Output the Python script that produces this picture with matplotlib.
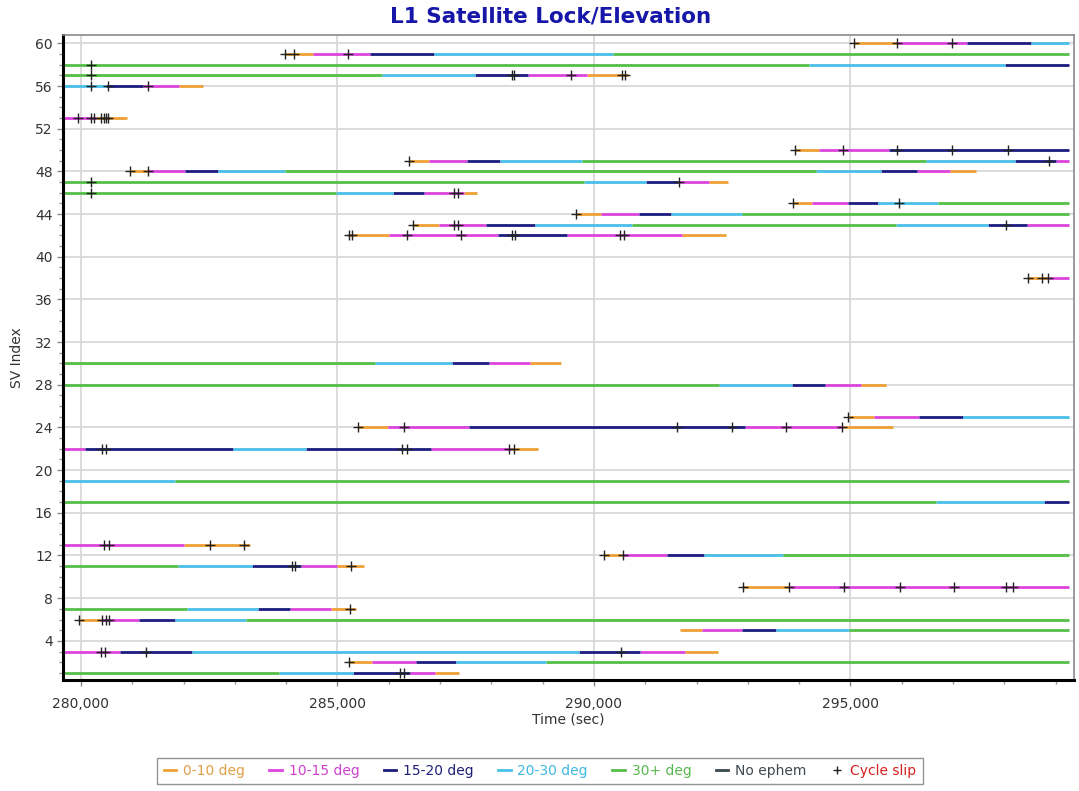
import matplotlib
matplotlib.use("Agg")
import matplotlib.pyplot as plt
from matplotlib.lines import Line2D
from matplotlib.ticker import MultipleLocator, FuncFormatter

# ---------------- data ----------------
# segments: (SV index, start time, end time)
seg_0_10 = [
    (60, 295070, 295900), (59, 283980, 284530), (57, 289866, 290670),
    (56, 281920, 282380), (53, 280300, 280900), (50, 293920, 294390),
    (49, 286400, 286785), (48, 280962, 281310), (48, 296935, 297437),
    (47, 292245, 292613), (46, 287457, 287726), (45, 293886, 294255),
    (44, 289652, 290134), (43, 286481, 286986), (42, 285216, 286010),
    (42, 291709, 292566), (38, 298462, 298878), (30, 288749, 289364),
    (28, 295206, 295695), (25, 294945, 295461), (24, 285391, 285976),
    (24, 294858, 295829), (22, 288380, 288904), (13, 282005, 283304),
    (12, 290188, 290570), (11, 285000, 285525), (9, 292901, 293799),
    (7, 284879, 285371), (6, 279966, 280390), (5, 291675, 292097),
    (3, 291776, 292425), (2, 285216, 285673), (1, 286898, 287369),
]
seg_10_15 = [
    (60, 295900, 297270), (59, 284530, 285640), (57, 288720, 289866),
    (56, 281200, 281920), (53, 279670, 280300), (50, 294390, 295760),
    (49, 286785, 287525), (49, 299010, 299250), (48, 281310, 282026),
    (48, 296298, 296935), (47, 291642, 292245), (46, 286683, 287457),
    (45, 294255, 294958), (44, 290134, 290871), (43, 286986, 287894),
    (43, 298442, 299250), (42, 286010, 288130), (42, 289484, 291709),
    (38, 298878, 299250), (30, 287948, 288749), (28, 294509, 295206),
    (25, 295461, 296332), (24, 285976, 287557), (24, 292948, 294858),
    (22, 279670, 280087), (22, 286817, 288380), (13, 279670, 282005),
    (12, 290570, 291427), (11, 284294, 285000), (9, 293799, 299250),
    (7, 284078, 284879), (6, 280390, 281131), (5, 292097, 292881),
    (3, 279670, 280760), (3, 290891, 291776), (2, 285673, 286535),
    (1, 286414, 286898),
]
seg_15_20 = [
    (60, 297270, 298510), (59, 285640, 286885), (58, 298010, 299250),
    (57, 287680, 288720), (56, 280490, 281200), (50, 295760, 299250),
    (49, 287525, 288165), (49, 298210, 299010), (48, 282026, 282665),
    (48, 295595, 296298), (47, 291005, 291642), (46, 286077, 286683),
    (45, 294958, 295528), (44, 290871, 291508), (43, 287894, 288850),
    (43, 297672, 298442), (42, 288130, 289484), (30, 287235, 287948),
    (28, 293853, 294509), (25, 296332, 297189), (24, 287557, 292948),
    (22, 280087, 282968), (22, 284395, 286817), (17, 298777, 299250),
    (12, 291427, 292144), (11, 283338, 284294), (7, 283452, 284078),
    (6, 281131, 281837), (5, 292881, 293551), (3, 280760, 282160),
    (3, 289712, 290891), (2, 286535, 287302), (1, 285303, 286414),
]
seg_20_30 = [
    (60, 298510, 299250), (59, 286885, 290370), (58, 294190, 298010),
    (57, 285875, 287680), (56, 279670, 280490), (49, 288165, 289765),
    (49, 296465, 298210), (48, 282665, 283977), (48, 294322, 295595),
    (47, 289799, 291005), (46, 284967, 286077), (45, 295528, 296700),
    (44, 291508, 292880), (43, 288850, 290737), (43, 295896, 297672),
    (30, 285741, 287235), (28, 292446, 293853), (25, 297189, 299250),
    (22, 282968, 284395), (19, 279670, 281824), (17, 296667, 298777),
    (12, 292144, 293685), (11, 281884, 283338), (7, 282073, 283452),
    (6, 281837, 283217), (5, 293551, 294978), (3, 282160, 289712),
    (2, 287302, 289062), (1, 283856, 285303),
]
seg_30_plus = [
    (59, 290370, 299250), (58, 279670, 294190), (57, 279670, 285875),
    (49, 289765, 296465), (48, 283977, 294322), (47, 279670, 289799),
    (46, 279670, 284967), (45, 296700, 299250), (44, 292880, 299250),
    (43, 290737, 295896), (30, 279670, 285741), (28, 279670, 292446),
    (19, 281824, 299250), (17, 279670, 296667), (12, 293685, 299250),
    (11, 279670, 281884), (7, 279670, 282073), (6, 283217, 299250),
    (5, 294978, 299250), (2, 289062, 299250), (1, 279670, 283856),
]
seg_no_ephem = []

# cycle slips
slip_sv = (
    [60] * 3 + [59] * 3 + [58] + [57] * 6 + [56] * 3 + [53] * 7 + [50] * 5
    + [49] * 2 + [48] * 2 + [47] * 2 + [46] * 3 + [45] * 2 + [44] + [43] * 4
    + [42] * 8 + [38] * 3 + [25] + [24] * 6 + [22] * 6 + [13] * 4 + [12] * 2
    + [11] * 3 + [9] * 7 + [7] + [6] * 4 + [3] * 4 + [2] + [1] * 2
)
slip_t = [
    295070, 295900, 296980,
    283980, 284160, 285215,
    280190,
    280190, 288400, 288450, 289550, 290540, 290600,
    280190, 280530, 281310,
    279940, 280190, 280250, 280400, 280440, 280480, 280520,
    293920, 294860, 295900, 296980, 298075,
    286400, 298865,
    280962, 281312,
    280190, 291655,
    280190, 287275, 287356,
    293886, 295943,
    289652,
    286481, 287275, 287356, 298040,
    285216, 285283, 286346, 287410, 288399, 288467, 290516, 290583,
    298462, 298730, 298844,
    294945,
    285391, 286293, 291628, 292700, 293752, 294837,
    280410, 280491, 286266, 286346, 288352, 288433,
    280444, 280545, 282524, 283170,
    290188, 290570,
    284112, 284179, 285256,
    292901, 293799, 294871, 295963, 297022, 298040, 298174,
    285236,
    279966, 280410, 280480, 280545,
    280390, 280478, 281265, 290523,
    285216,
    286225, 286292,
]

band_labels = ["0-10 deg", "10-15 deg", "15-20 deg", "20-30 deg", "30+ deg", "No ephem"]
band_segments = [seg_0_10, seg_10_15, seg_15_20, seg_20_30, seg_30_plus, seg_no_ephem]
x_ticks = [280000, 285000, 290000, 295000]
y_ticks = list(range(4, 61, 4))

# ---------------- style ----------------
band_colors = ["#EFA035", "#DD44DD", "#1C1C7E", "#48C0E8", "#55BE48", "#3A4850"]
text_colors = ["#E0A048", "#D040D0", "#20207A", "#40B8E0", "#58B850", "#404850"]

fig = plt.figure(figsize=(10.79, 7.91), dpi=100)
ax = fig.add_axes([63 / 1079, 1 - 680 / 791, (1074 - 63) / 1079, (680 - 35) / 791])

ax.set_xlim(279650, 299357)
ax.set_ylim(0.33, 60.78)

ax.grid(True, which="major", color="#d9d9d9", lw=1.3, zorder=0)
ax.set_axisbelow(True)

for segs, col in zip(band_segments, band_colors):
    if segs:
        ys = [s[0] for s in segs]
        x0 = [s[1] for s in segs]
        x1 = [s[2] for s in segs]
        ax.hlines(ys, x0, x1, colors=col, lw=2.0, zorder=2, capstyle="butt")

ax.plot(slip_t, slip_sv, linestyle="none", marker="+", color="#222222",
        markersize=6.5, markeredgewidth=1.0, zorder=3)

ax.set_xticks(x_ticks)
ax.set_yticks(y_ticks)
ax.xaxis.set_minor_locator(MultipleLocator(1000))
ax.yaxis.set_minor_locator(MultipleLocator(1))
ax.xaxis.set_major_formatter(FuncFormatter(lambda v, p: f"{int(v):,}"))
ax.tick_params(axis="both", which="major", labelsize=10, labelcolor="#333333",
               color="#888888", length=4, width=1)
ax.tick_params(axis="x", which="major", pad=8)
ax.tick_params(axis="both", which="minor", color="#999999", length=3, width=1)

for side in ["top", "right"]:
    ax.spines[side].set_color("#8a8a8a")
    ax.spines[side].set_linewidth(1.2)
for side in ["left", "bottom"]:
    ax.spines[side].set_color("#000000")
    ax.spines[side].set_linewidth(2.2)

ax.set_xlabel("Time (sec)", fontsize=10, color="#333333", labelpad=1)
ax.set_ylabel("SV Index", fontsize=10, color="#333333", labelpad=8)

fig.text(551 / 1079, 1 - 16 / 791, "L1 Satellite Lock/Elevation", ha="center",
         va="center", fontsize=15.5, fontweight="bold", color="#1616A8")

handles = [Line2D([0], [0], color=c, lw=2) for c in band_colors]
handles.append(Line2D([0], [0], linestyle="none", marker="+", color="#222222",
                      markersize=6, markeredgewidth=1.0))
labels = band_labels + ["Cycle slip"]
leg = fig.legend(handles, labels, loc="center", ncol=7,
                 bbox_to_anchor=(540 / 1079, 1 - 771 / 791), fontsize=10,
                 handlelength=0.9, handletextpad=0.5, columnspacing=1.75,
                 frameon=True, fancybox=False, borderpad=0.45)
leg.get_frame().set_edgecolor("#7a7a7a")
leg.get_frame().set_linewidth(1.0)
for t, c in zip(leg.get_texts(), text_colors + ["#D82020"]):
    t.set_color(c)

fig.savefig("out.png", dpi=100)
